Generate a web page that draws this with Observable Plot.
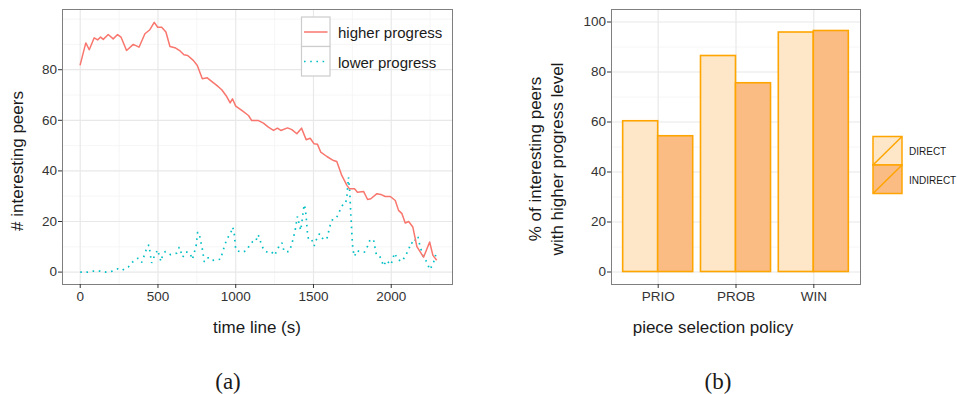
<!DOCTYPE html>
<html><head><meta charset="utf-8">
<script src="https://cdn.jsdelivr.net/npm/d3@7"></script>
<script src="https://cdn.jsdelivr.net/npm/@observablehq/plot@0.6"></script>
<style>
body{margin:0;background:#fff;}
#wrap{position:relative;width:957px;height:394px;overflow:hidden;font-family:"Liberation Sans",Arial,sans-serif;background:#fff;}
#wrap > svg{position:absolute;top:0;}
</style></head><body><div id="wrap"></div>
<script>
// ---- Chart (a): interesting peers over time ----
const hiTime  = [0,36,58,90,112,131,148,180,212,240,262,298,341,378,416,448,476,498,524,551,577,609,642,667,691,727,753,785,817,845,878,910,942,964,979,1000,1039,1082,1103,1146,1178,1210,1243,1268,1290,1333,1361,1393,1423,1453,1479,1504,1526,1547,1586,1629,1650,1682,1715,1732,1764,1783,1822,1848,1869,1908,1933,1961,1994,2026,2047,2069,2090,2112,2139,2165,2208,2247,2268,2290];
const hiValue = [82,90.6,87.9,92.6,91.8,92.9,92,93.9,92.2,93.9,92.9,87.6,90,88.9,94.2,95.8,98.7,96.8,96.8,94.9,89.2,88.7,87.4,85.9,85.6,83.7,81.7,76.4,76.8,75.4,73.8,72.1,69.4,66.9,68.5,65.6,63.9,61.9,59.9,59.9,58.9,57.3,56,56.9,56,57,56.3,54.7,56.9,52.3,52.9,50.7,50.5,47.4,45.7,44.1,43.7,38.2,34.3,32.9,32.9,31.6,31.9,28.7,29,31,30.7,29.9,29.9,28.3,24.4,23.1,19.4,20,17.8,10.1,5.9,11.9,6.6,4.9];
const loTime  = [0,47,86,127,165,206,242,270,309,337,371,395,418,431,442,459,476,498,519,530,547,581,620,637,659,680,706,721,745,755,766,775,785,798,824,850,882,903,916,942,968,981,991,1000,1017,1045,1071,1092,1110,1129,1142,1152,1163,1182,1210,1232,1249,1268,1285,1298,1311,1343,1358,1371,1382,1388,1397,1408,1418,1429,1440,1448,1453,1461,1468,1489,1504,1517,1539,1564,1586,1607,1624,1650,1667,1689,1706,1715,1725,1732,1740,1747,1753,1764,1779,1800,1828,1848,1865,1887,1904,1925,1940,1951,1968,1998,2021,2043,2069,2090,2112,2127,2148,2161,2172,2182,2204,2230,2247,2268,2283,2290];
const loValue = [0,0,0.4,0.4,0,0.4,1.3,0.7,2,4,5.5,3.8,7.6,10.3,10.7,3.6,6.2,8.8,4.2,6.7,8.1,6.9,7.5,9.9,5.9,8,7.5,5,10.3,15.8,14.9,12.1,9.2,4,5.7,4.6,4.9,5.1,8.1,12.9,15.5,17.8,14.8,8.8,8.3,7.9,8.6,11,12.1,12.1,14.8,13.8,11.2,8.6,7.6,7.9,6.6,8.8,11.2,11.5,8.1,8.1,10.5,13.5,16.5,18.8,22,19,16.5,21.5,26.7,25,21.7,15.8,12.8,12.8,10.3,12.6,15.2,12.8,13.2,18.4,21,21.7,24,26.7,27,30,37.5,33,23,15,9,6.2,8.5,8,7.9,10.3,13,12.6,7,6.5,4.2,2.4,4.6,2.9,7.5,4.9,4.2,6.3,8.9,11.7,11.2,14.1,13.8,11.2,6.3,3.9,1,3,5.9,8.6];
const seriesNames = ["higher progress","lower progress"];
const xTicksA = [0,500,1000,1500,2000];
const xMinorA = [250,750,1250,1750,2250];
const yTicksA = [0,20,40,60,80];
const yMinorA = [10,30,50,70,90,100];

// ---- Chart (b): % of interesting peers with higher progress level ----
const policies = ["PRIO","PROB","WIN"];
const types = ["DIRECT","INDIRECT"];
const directValues = [60.3,86.4,95.8];
const indirectValues = [54.3,75.5,96.4];
const yTicksB = [0,20,40,60,80,100];
const yMinorB = [10,30,50,70,90];

const colHi = "#F8766D", colLo = "#00BFC4";
const fillDirect = "#FDE7C8", fillIndirect = "#FBBC84", orange = "#FFA500";
const majorGrid = "#e8e8e8", minorGrid = "#f4f4f4", frameCol = "#7f7f7f";
const dots = "1.6 4.6";
const titleCol = "#1a1a1a";

const wrap = document.getElementById("wrap");
const baseStyle = {fontFamily:"Liberation Sans, Arial, sans-serif", fontSize:"13.5px", color:"#333", background:"transparent", overflow:"visible"};
const plain = d => String(d);

const hiData = hiTime.map((t,i)=>({t, v: hiValue[i], s: seriesNames[0]}));
const loData = loTime.map((t,i)=>({t, v: loValue[i], s: seriesNames[1]}));

const left = Plot.plot({
  width: 478, height: 345, marginTop: 9, marginLeft: 62, marginRight: 26, marginBottom: 61,
  x: {domain: [-114, 2394]},
  y: {domain: [-4.9, 103.8]},
  style: baseStyle,
  marks: [
    Plot.gridX(xMinorA, {stroke: minorGrid, strokeOpacity: 1, strokeWidth: 0.8}),
    Plot.gridY(yMinorA, {stroke: minorGrid, strokeOpacity: 1, strokeWidth: 0.8}),
    Plot.gridX(xTicksA, {stroke: majorGrid, strokeOpacity: 1, strokeWidth: 1.2}),
    Plot.gridY(yTicksA, {stroke: majorGrid, strokeOpacity: 1, strokeWidth: 1.2}),
    Plot.line(loData, {x: "t", y: "v", stroke: colLo, strokeWidth: 1.7, strokeDasharray: dots, strokeLinecap: "butt", strokeLinejoin: "miter"}),
    Plot.line(hiData, {x: "t", y: "v", stroke: colHi, strokeWidth: 1.5}),
    Plot.frame({stroke: frameCol, strokeWidth: 1}),
    Plot.axisX(xTicksA, {tickSize: 4, tickPadding: 3, label: null, stroke: "#333", tickFormat: plain}),
    Plot.axisY(yTicksA, {tickSize: 4, tickPadding: 1.5, label: null, stroke: "#333", tickFormat: plain})
  ]
});
left.style.left = "0px";
wrap.appendChild(left);

const barData = policies.flatMap((p,i)=>[
  {policy: p, type: types[0], v: directValues[i]},
  {policy: p, type: types[1], v: indirectValues[i]}
]);
const rW = 479, rML = 133, rMR = 97;
const half = (rW - rML - rMR) * 0.45 / 3.2;

const right = Plot.plot({
  width: rW, height: 345, marginTop: 9, marginLeft: rML, marginRight: rMR, marginBottom: 61,
  x: {type: "band", domain: policies, paddingInner: 0.1, paddingOuter: 0.15, round: false},
  y: {domain: [-5, 105]},
  color: {domain: types, range: [fillDirect, fillIndirect]},
  style: baseStyle,
  marks: [
    Plot.gridY(yMinorB, {stroke: minorGrid, strokeOpacity: 1, strokeWidth: 0.8}),
    Plot.gridY(yTicksB, {stroke: majorGrid, strokeOpacity: 1, strokeWidth: 1.2}),
    Plot.gridX(policies, {stroke: majorGrid, strokeOpacity: 1, strokeWidth: 1.2}),
    Plot.barY(barData.filter(d=>d.type===types[0]), {x: "policy", y: "v", fill: "type", stroke: orange, strokeWidth: 1.6, insetRight: half}),
    Plot.barY(barData.filter(d=>d.type===types[1]), {x: "policy", y: "v", fill: "type", stroke: orange, strokeWidth: 1.6, insetLeft: half}),
    Plot.frame({stroke: frameCol, strokeWidth: 1}),
    Plot.axisX(policies, {tickSize: 4, tickPadding: 3, label: null, stroke: "#333"}),
    Plot.axisY(yTicksB, {tickSize: 4, tickPadding: 1.5, label: null, stroke: "#333", tickFormat: plain})
  ]
});
right.style.left = "478px";
wrap.appendChild(right);

// ---- overlay: titles, legends, captions ----
const ov = d3.select(wrap).append("svg")
  .attr("width", 957).attr("height", 394)
  .style("left", "0px").style("pointer-events", "none")
  .style("font-family", "Liberation Sans, Arial, sans-serif");

function txt(x, y, s, size, opts = {}) {
  const t = ov.append("text").attr("x", x).attr("y", y).text(s)
    .attr("font-size", size).attr("fill", opts.fill || titleCol)
    .attr("text-anchor", opts.anchor || "middle").attr("dominant-baseline", "central");
  if (opts.rotate) t.attr("transform", `rotate(-90 ${x} ${y})`);
  if (opts.family) t.attr("font-family", opts.family);
  return t;
}

// axis titles
txt(17, 161, "# interesting peers", 17, {rotate: true});
txt(257, 327, "time line (s)", 17);
txt(535, 159, "% of interesting peers", 17, {rotate: true});
txt(557, 159, "with higher progress level", 17, {rotate: true});
txt(713, 327, "piece selection policy", 17);

// legend (a)
const lg = ov.append("g");
lg.append("rect").attr("x", 301.5).attr("y", 17).attr("width", 28.5).attr("height", 29.5).attr("fill", "#fff").attr("stroke", "#cccccc").attr("stroke-width", 1.2);
lg.append("rect").attr("x", 301.5).attr("y", 46.5).attr("width", 28.5).attr("height", 29.5).attr("fill", "#fff").attr("stroke", "#cccccc").attr("stroke-width", 1.2);
lg.append("line").attr("x1", 304).attr("x2", 327.5).attr("y1", 32).attr("y2", 32).attr("stroke", colHi).attr("stroke-width", 1.5);
lg.append("line").attr("x1", 304).attr("x2", 327.5).attr("y1", 61.5).attr("y2", 61.5).attr("stroke", colLo).attr("stroke-width", 1.7).attr("stroke-dasharray", dots);
txt(338, 32, seriesNames[0], 15, {anchor: "start"});
txt(338, 62, seriesNames[1], 15, {anchor: "start"});

// legend (b)
const lb = ov.append("g");
[[fillDirect, 136.5], [fillIndirect, 165]].forEach(([f, y], i) => {
  lb.append("rect").attr("x", 873).attr("y", y).attr("width", 29).attr("height", 28.5).attr("fill", f).attr("stroke", orange).attr("stroke-width", 1.5);
  lb.append("line").attr("x1", 873).attr("y1", y + 28.5).attr("x2", 902).attr("y2", y).attr("stroke", orange).attr("stroke-width", 1.5);
  txt(909, y + 15, types[i], 10, {anchor: "start"});
});

// captions
txt(228, 381, "(a)", 23, {family: "Liberation Serif, DejaVu Serif, serif"});
txt(718, 381, "(b)", 23, {family: "Liberation Serif, DejaVu Serif, serif"});
</script>
</body></html>
